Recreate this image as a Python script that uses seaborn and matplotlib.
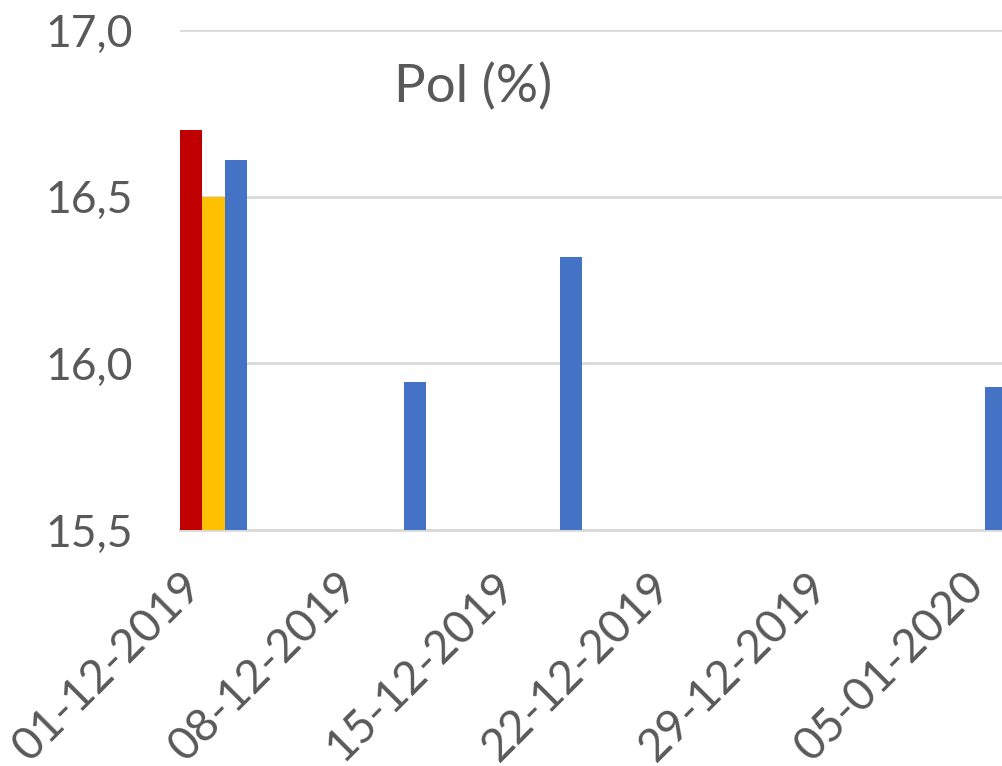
import numpy as np
import pandas as pd
import matplotlib
matplotlib.use("Agg")
import matplotlib.pyplot as plt
import seaborn as sns

# ---- data ----
series_names = ["Serie 1", "Serie 2", "Serie 3"]
red_dates = ["2019-12-01"]
red_values = [16.70]
yellow_dates = ["2019-12-02"]
yellow_values = [16.50]
blue_dates = ["2019-12-03", "2019-12-11", "2019-12-18", "2020-01-06"]
blue_values = [16.61, 15.945, 16.32, 15.93]
tick_dates = ["2019-12-01", "2019-12-08", "2019-12-15", "2019-12-22", "2019-12-29", "2020-01-05"]
tick_labels = ["01-12-2019", "08-12-2019", "15-12-2019", "22-12-2019", "29-12-2019", "05-01-2020"]
y_ticks = [15.5, 16.0, 16.5, 17.0]
y_tick_labels = ["15,5", "16,0", "16,5", "17,0"]
title = "Pol (%)"
colors = {"Serie 1": "#C00000", "Serie 2": "#FFC000", "Serie 3": "#4472C4"}

origin = pd.Timestamp("2019-12-01")
def days(ds):
    return [(pd.Timestamp(d) - origin).days for d in ds]

df = pd.DataFrame({
    "day": days(red_dates) + days(yellow_dates) + days(blue_dates),
    "value": red_values + yellow_values + blue_values,
    "series": [series_names[0]] * len(red_values) + [series_names[1]] * len(yellow_values)
              + [series_names[2]] * len(blue_values),
})
df["center"] = df["day"] + 0.5

sns.set_theme(style="white")
plt.rcParams["font.family"] = ["Lato", "DejaVu Sans"]

fig = plt.figure(figsize=(10.02, 7.66), dpi=100)
ax = fig.add_axes([180 / 1002, 1 - 530 / 766, 1 - 180 / 1002, 500 / 766])

for name in series_names:
    sub = df[df["series"] == name]
    ax.bar(sub["center"], sub["value"], width=1.0, color=colors[name], linewidth=0, zorder=3)

ax.set_ylim(15.5, 17.0)
ax.set_xlim(0, (1002 - 180) / 22.36)

ax.set_yticks(y_ticks)
ax.set_yticklabels(y_tick_labels)
ax.yaxis.grid(True, color="#D9D9D9", linewidth=2, zorder=0)
ax.set_xticks(days(tick_dates))
ax.set_xticklabels(tick_labels, rotation=45, ha="right", rotation_mode="anchor")

text_color = "#595959"
ax.tick_params(axis="y", length=0, pad=34, labelsize=32, labelcolor=text_color)
ax.tick_params(axis="x", length=13, width=2, color="#D9D9D9", pad=12, labelsize=33,
               labelcolor=text_color, direction="out")

sns.despine(ax=ax, left=True, top=True, right=True)
ax.spines["bottom"].set_color("#D9D9D9")
ax.spines["bottom"].set_linewidth(2)

ax.text(0.357, 0.885, title, transform=ax.transAxes, ha="center", va="center",
        fontsize=38, color=text_color)

fig.savefig("out.png", dpi=100)
